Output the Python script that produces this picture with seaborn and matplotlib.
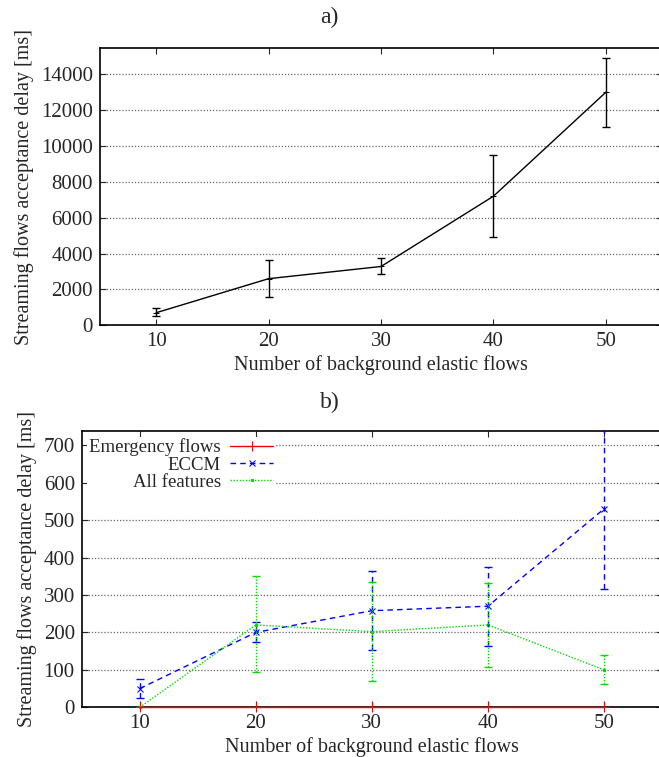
import matplotlib
matplotlib.use("Agg")
import matplotlib.pyplot as plt
import numpy as np
import pandas as pd
import seaborn as sns

# panel a) streaming flows acceptance delay
flows = [10, 20, 30, 40, 50]
delay_a = [700, 2600, 3280, 7200, 13000]
delay_a_lo = [500, 1550, 2850, 4950, 11050]
delay_a_hi = [950, 3650, 3750, 9500, 14900]

# panel b) three configurations
emergency = [0, 0, 0, 0, 0]
eccm = [50, 200, 258, 270, 530]
eccm_lo = [25, 175, 152, 165, 315]
eccm_hi = [75, 228, 365, 375, 745]
allfeat = [0, 220, 202, 220, 100]
allfeat_lo = [0, 95, 70, 108, 62]
allfeat_hi = [0, 350, 335, 332, 140]

series_names = ["Emergency flows", "ECCM", "All features"]
series_colors = ["#ff0000", "#0000ff", "#00dd00"]

sns.set_style("ticks")
plt.rcParams["font.family"] = ["Liberation Serif", "DejaVu Serif"]
TICK_FS = 15
LABEL_FS = 14.5

fig = plt.figure(figsize=(6.59, 7.57), dpi=100)
ax_a = fig.add_axes([0.1517, 0.5703, 0.853, 0.3659])
ax_b = fig.add_axes([0.124, 0.0657, 0.8806, 0.3649])


def style_axis(ax, yticks):
    ax.set_xlim(5, 55)
    ax.set_xticks(flows)
    ax.set_yticks(yticks)
    ax.tick_params(direction="in", top=True, right=True, length=4, width=0.8,
                   labelsize=TICK_FS, pad=5)
    for s in ax.spines.values():
        s.set_linewidth(1.2)
        s.set_color("black")
    for y in yticks[1:]:
        ax.axhline(y, color="#666666", lw=0.9, ls=(0, (1, 1.5)), zorder=0)
    ax.set_xlabel("Number of background elastic flows", fontsize=LABEL_FS, labelpad=3)
    ax.set_ylabel("Streaming flows acceptance delay [ms]", fontsize=LABEL_FS, labelpad=5)


# ---- panel a
df_a = pd.DataFrame({"flows": flows, "delay": delay_a})
sns.lineplot(data=df_a, x="flows", y="delay", ax=ax_a, color="black", lw=1.0,
             marker="+", markersize=5, markeredgecolor="black", zorder=3)
ax_a.errorbar(flows, delay_a,
              yerr=[np.subtract(delay_a, delay_a_lo), np.subtract(delay_a_hi, delay_a)],
              fmt="none", ecolor="black", elinewidth=1.0, capsize=3, capthick=1.0, zorder=3)
ax_a.set_ylim(0, 15450)
style_axis(ax_a, list(range(0, 14001, 2000)))

# ---- panel b
df_b = pd.DataFrame({
    "flows": flows * 3,
    "delay": emergency + eccm + allfeat,
    "series": [n for n in series_names for _ in flows],
})
styles = {"Emergency flows": ("-", "+", 7),
          "ECCM": ((0, (4, 3)), "x", 5),
          "All features": ((0, (1, 1.2)), "s", 2)}
for name, col in zip(series_names, series_colors):
    sub = df_b[df_b["series"] == name]
    ls, mk, ms = styles[name]
    sns.lineplot(data=sub, x="flows", y="delay", ax=ax_b, color=col, lw=1.0,
                 linestyle=ls, marker=mk, markersize=ms, markeredgecolor=col,
                 markerfacecolor=col, label=name,
                 zorder=4 if name == "Emergency flows" else 3, clip_on=False)

for vals, lo, hi, col, ls in [(eccm, eccm_lo, eccm_hi, series_colors[1], (0, (4, 3))),
                             (allfeat, allfeat_lo, allfeat_hi, series_colors[2], (0, (1, 1.2)))]:
    eb = ax_b.errorbar(flows, vals, yerr=[np.subtract(vals, lo), np.subtract(hi, vals)],
                       fmt="none", ecolor=col, elinewidth=1.0, capsize=3, capthick=1.0, zorder=3)
    eb[2][0].set_linestyle(ls)

ax_b.set_ylim(0, 738)
style_axis(ax_b, list(range(0, 701, 100)))

# gnuplot-like key: right-justified text, sample to the right
leg = ax_b.legend(loc="upper left", bbox_to_anchor=(0.0, 1.0), fontsize=13.5, frameon=True,
                  facecolor="white", edgecolor="none", framealpha=1.0, fancybox=False,
                  markerfirst=False, handlelength=2.3, labelspacing=0.0,
                  borderpad=0.1, borderaxespad=0.3, handletextpad=0.5)
leg.set_zorder(5)

fig.text(0.5, 1 - 17 / 757, "a)", ha="center", va="center", fontsize=17)
fig.text(0.5, 1 - 402 / 757, "b)", ha="center", va="center", fontsize=17)

fig.savefig("out.png", dpi=100)
